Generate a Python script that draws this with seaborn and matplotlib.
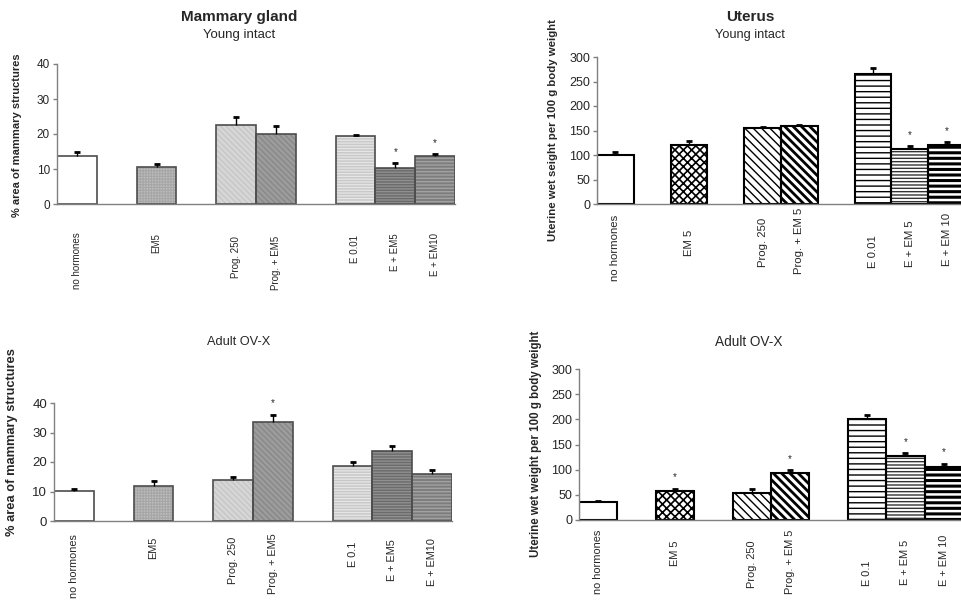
import numpy as np
import pandas as pd
import matplotlib
matplotlib.use("Agg")
import matplotlib.pyplot as plt
from matplotlib.patches import Rectangle
import seaborn as sns

# ---- values: mean, upper error (SEM), significant? ----
mam_young_labels = ["no hormones", "EM5", "Prog. 250", "Prog. + EM5", "E 0.01", "E + EM5", "E + EM10"]
mam_young_means = [13.6, 10.6, 22.6, 20.0, 19.3, 10.4, 13.7]
mam_young_err = [1.2, 0.8, 2.3, 2.3, 0.3, 1.2, 0.6]
mam_young_sig = [False, False, False, False, False, True, True]

ute_young_labels = ["no hormones", "EM 5", "Prog. 250", "Prog. + EM 5", "E 0.01", "E + EM 5", "E + EM 10"]
ute_young_means = [101, 121, 155, 159, 265, 113, 120]
ute_young_err = [6, 7, 1.5, 2, 12, 6, 6]
ute_young_sig = [False, False, False, False, False, True, True]

mam_adult_labels = ["no hormones", "EM5", "Prog. 250", "Prog. + EM5", "E 0.1", "E + EM5", "E + EM10"]
mam_adult_means = [10.2, 11.7, 13.9, 33.7, 18.8, 23.6, 15.9]
mam_adult_err = [0.7, 1.8, 1.1, 2.4, 1.3, 1.9, 1.3]
mam_adult_sig = [False, False, False, True, False, False, False]

ute_adult_labels = ["no hormones", "EM 5", "Prog. 250", "Prog. + EM 5", "E 0.1", "E + EM 5", "E + EM 10"]
ute_adult_means = [36.5, 58.4, 53.8, 92.9, 199.8, 128, 104.9]
ute_adult_err = [1.3, 4, 7.9, 6, 9, 4.7, 7.3]
ute_adult_sig = [False, True, False, True, False, True, True]

# ---- bar styles per treatment ----
mam_faces = ["white", "#bdbdbd", "#d6d6d6", "#9c9c9c", "#c9c9c9", "#909090", "#7d7d7d"]
mam_hatches = ["", "++++++", "\\\\\\\\\\\\", "\\\\\\\\\\\\", "------", "------", "-----"]
mam_hcolors = ["white", "#a6a6a6", "#c4c4c4", "#858585", "#e6e6e6", "#6a6a6a", "#a2a2a2"]
mam_hlw = [1.0, 0.8, 0.8, 0.8, 0.9, 1.0, 1.0]

ute_faces = ["white"] * 7
ute_hatches = ["", "xxxx", "\\\\\\\\", "\\\\\\\\", "---", "-----", "---"]
ute_hcolors = ["white", "black", "black", "black", "black", "#333333", "black"]
ute_hlw = [1.0, 1.2, 1.0, 2.0, 1.0, 1.0, 2.2]

SLOTS = [0, 2, 4, 5, 7, 8, 9]   # gaps between treatment groups

sns.set_style("ticks")
plt.rcParams["font.family"] = ["Liberation Sans", "DejaVu Sans"]
plt.rcParams["hatch.linewidth"] = 1.0

W, H = 962, 600
fig = plt.figure(figsize=(W / 100, H / 100), dpi=100)


def px_axes(left, right, y0, ytop):
    return fig.add_axes([left / W, 1 - y0 / H, (right - left) / W, (y0 - ytop) / H])


def slot_order(labels):
    order = [" " * (k + 1) for k in range(10)]
    for lab, s in zip(labels, SLOTS):
        order[s] = lab
    return order


def panel(ax, labels, means, errs, sig, faces, hatches, hcolors, hlw,
          edge, edge_lw, ymax, ystep, tick_fs, lab_fs, lab_pads):
    order = slot_order(labels)
    df = pd.DataFrame({"group": labels, "value": means})
    sns.barplot(data=df, x="group", y="value", order=order, color="white",
                width=1.0, errorbar=None, linewidth=0, ax=ax)
    for p in list(ax.patches):
        i = labels.index(order[int(round(p.get_x() + p.get_width() / 2))])
        p.set_facecolor(faces[i])
        p.set_edgecolor(hcolors[i])
        p.set_linewidth(0)
        p.set_hatch(hatches[i])
        if hasattr(p, "set_hatch_linewidth"):
            p.set_hatch_linewidth(hlw[i])
        ax.add_patch(Rectangle((p.get_x(), 0), p.get_width(), p.get_height(),
                               fill=False, edgecolor=edge, lw=edge_lw, zorder=1.5))

    # upper error bars only (stem + cap)
    xs = [order.index(l) for l in labels]
    tops = np.array(means) + np.array(errs)
    ax.vlines(xs, means, tops, color="black", lw=1, zorder=3)
    ax.plot(xs, tops, ls="none", marker="_", ms=4.4, mew=2, color="black", zorder=3)
    for x, t, s in zip(xs, tops, sig):
        if s:
            ax.annotate("*", xy=(x, t), xytext=(0, 8), textcoords="offset points",
                        ha="center", va="center", fontsize=7)

    ax.set_xlim(-0.5, 9.5)
    ax.set_ylim(0, ymax)
    ax.set_yticks(np.arange(0, ymax + 1, ystep))
    sns.despine(ax=ax)
    for s in ("left", "bottom"):
        ax.spines[s].set_color("#808080")
        ax.spines[s].set_linewidth(1)
    ax.tick_params(axis="y", length=3, width=1, color="#808080", labelsize=tick_fs, pad=2)
    ax.tick_params(axis="x", length=0, labelbottom=False)
    ax.set_xlabel("")
    ax.set_ylabel("")
    for x, lab, pad in zip(xs, labels, lab_pads):
        ax.annotate(lab, xy=(x, 0), xycoords=("data", "axes fraction"),
                    xytext=(0, -pad * 0.72), textcoords="offset points",
                    rotation=90, ha="center", va="top", fontsize=lab_fs,
                    annotation_clip=False)


ax_tl = px_axes(57, 455, 204, 64)
panel(ax_tl, mam_young_labels, mam_young_means, mam_young_err, mam_young_sig,
      mam_faces, mam_hatches, mam_hcolors, mam_hlw, "#4d4d4d", 1.2,
      40, 10, 8.5, 7, [28, 29, 32, 32, 31, 29, 29])

ax_tr = px_axes(597, 965, 204, 57)
panel(ax_tr, ute_young_labels, ute_young_means, ute_young_err, ute_young_sig,
      ute_faces, ute_hatches, ute_hcolors, ute_hlw, "black", 1.5,
      300, 50, 9, 8.2, [11, 26, 14, 4, 31, 16, 9])

ax_bl = px_axes(54, 452, 521, 403)
panel(ax_bl, mam_adult_labels, mam_adult_means, mam_adult_err, mam_adult_sig,
      mam_faces, mam_hatches, mam_hcolors, mam_hlw, "#4d4d4d", 1.2,
      40, 10, 9.5, 7.8, [13, 16, 16, 12, 21, 18, 17])

ax_br = px_axes(579, 963, 520, 369)
panel(ax_br, ute_adult_labels, ute_adult_means, ute_adult_err, ute_adult_sig,
      ute_faces, ute_hatches, ute_hcolors, ute_hlw, "black", 1.5,
      300, 50, 9, 7.9, [10, 20, 20, 10, 40, 20, 15])


def ftext(x, y, s, **kw):
    fig.text(x / W, 1 - y / H, s, ha="center", va="center", **kw)


ftext(239, 17, "Mammary gland", fontsize=11, fontweight="bold")
ftext(239, 35, "Young intact", fontsize=9.5)
ftext(750, 17, "Uterus", fontsize=11, fontweight="bold")
ftext(750, 35, "Young intact", fontsize=9.2)
ftext(239, 342, "Adult OV-X", fontsize=9.2)
ftext(749, 342, "Adult OV-X", fontsize=9.8)

ftext(17, 135, "% area of mammary structures", rotation=90, fontsize=8, fontweight="bold")
ftext(553, 130, "Uterine wet seight per 100 g body weight", rotation=90, fontsize=8.2, fontweight="bold")
ftext(12, 442, "% area of mammary structures", rotation=90, fontsize=9.3, fontweight="bold")
ftext(536, 444, "Uterine wet weight per 100 g body weight", rotation=90, fontsize=8.3, fontweight="bold")

fig.savefig("out.png", dpi=100)
